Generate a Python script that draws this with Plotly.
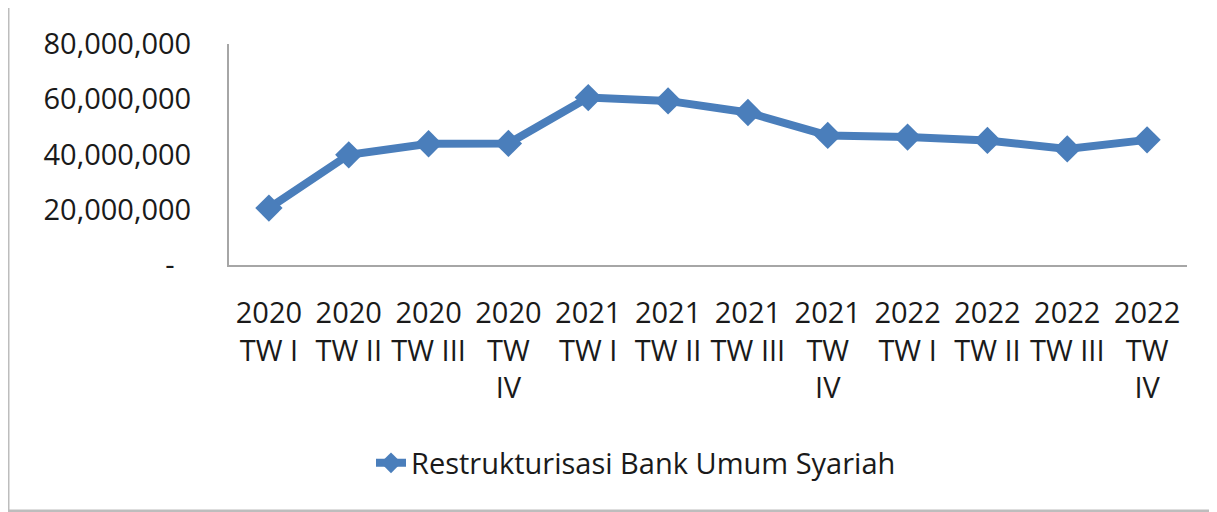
import plotly.graph_objects as go

categories = ["2020<br>TW I", "2020<br>TW II", "2020<br>TW III", "2020<br>TW<br>IV",
              "2021<br>TW I", "2021<br>TW II", "2021<br>TW III", "2021<br>TW<br>IV",
              "2022<br>TW I", "2022<br>TW II", "2022<br>TW III", "2022<br>TW<br>IV"]
values = [20_600_000, 39_900_000, 43_900_000, 44_000_000, 60_600_000, 59_400_000,
          55_200_000, 46_900_000, 46_300_000, 45_100_000, 42_000_000, 45_300_000]
series_name = "Restrukturisasi Bank Umum Syariah"
ytick_vals = [0, 20_000_000, 40_000_000, 60_000_000, 80_000_000]
ytick_text = ["-\u2007", "20,000,000", "40,000,000", "60,000,000", "80,000,000"]

BLUE = "#4a7ebb"
FONT = "Open Sans"
TXT = "#1a1a1a"
FS = 29

OFF = 8  # page offset of the figure in the screenshot
FW, FH = 1217, 512
# plot area in screen px: x 229..1187, y 44..265
L, R, T, B = 229 - OFF, 1187 - OFF, 44 - OFF, 265 - OFF
W, H = R - L, B - T
def px_x(p): return (p - OFF - L) / W
def px_y(p): return (B - (p - OFF)) / H

fig = go.Figure()
fig.add_trace(go.Scatter(
    x=categories, y=values, name=series_name, mode="lines+markers",
    line=dict(color=BLUE, width=8),
    marker=dict(symbol="diamond", size=21, color=BLUE),
))

fig.update_layout(
    width=FW, height=FH,
    margin=dict(l=L, r=FW - R, t=T, b=FH - B),
    paper_bgcolor="white", plot_bgcolor="white",
    font=dict(family=FONT, size=FS, color=TXT),
    showlegend=True,
    legend=dict(orientation="h", x=px_x(636), xanchor="center",
                y=px_y(463), yanchor="middle",
                font=dict(family=FONT, size=FS, color=TXT),
                bgcolor="rgba(0,0,0,0)"),
    xaxis=dict(range=[-0.5, len(categories) - 0.5],
               showgrid=False, zeroline=False, showline=True,
               linecolor="#a6a6a6", linewidth=2, ticks="",
               tickfont=dict(family=FONT, size=FS, color=TXT),
               ticklabelstandoff=21, tickangle=0, fixedrange=True),
    yaxis=dict(range=[0, 80_000_000], showgrid=False, zeroline=False,
               showline=True, linecolor="#a6a6a6", linewidth=2, ticks="",
               tickvals=ytick_vals, ticktext=ytick_text,
               tickfont=dict(family=FONT, size=FS, color=TXT),
               ticklabelstandoff=30, fixedrange=True),
    shapes=[dict(type="rect", xref="paper", yref="paper",
                 x0=px_x(8), x1=px_x(1230), y0=px_y(511), y1=px_y(6),
                 line=dict(color="#bdbdbd", width=3), layer="below")],
)

fig.write_html("out.html")
